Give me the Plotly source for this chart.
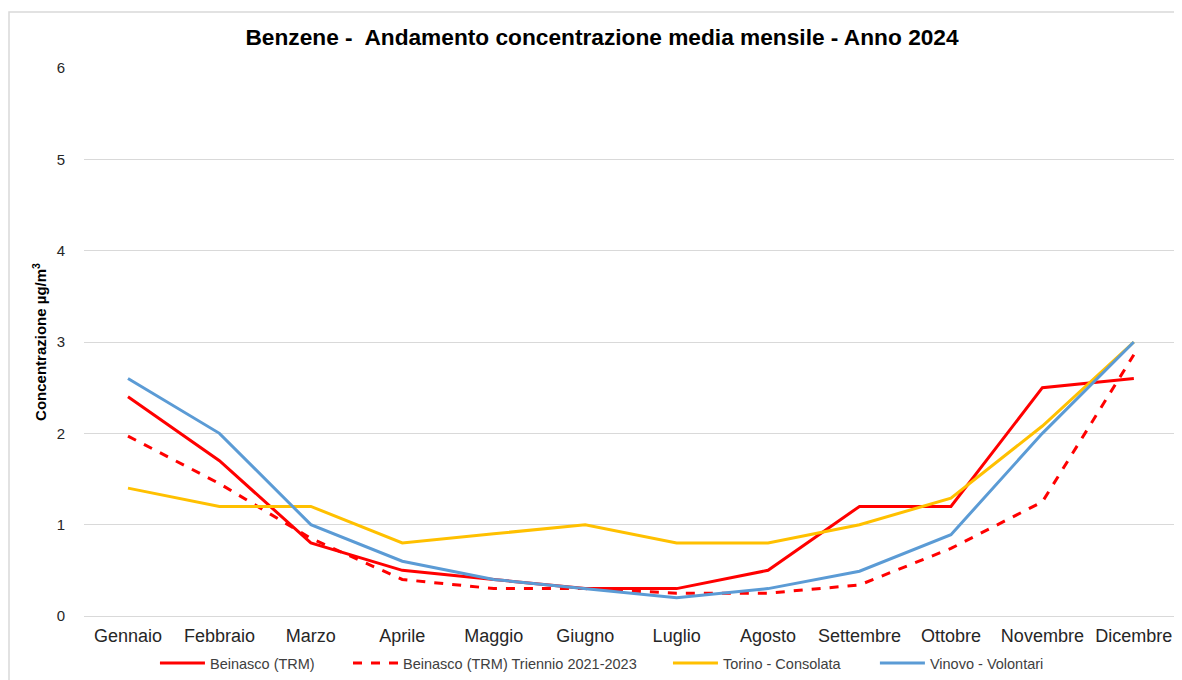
import plotly.graph_objects as go

months = ["Gennaio", "Febbraio", "Marzo", "Aprile", "Maggio", "Giugno", "Luglio",
          "Agosto", "Settembre", "Ottobre", "Novembre", "Dicembre"]
beinasco = [2.4, 1.7, 0.8, 0.5, 0.4, 0.3, 0.3, 0.5, 1.2, 1.2, 2.5, 2.6]
beinasco_triennio = [1.97, 1.45, 0.85, 0.4, 0.3, 0.3, 0.25, 0.25, 0.34, 0.74, 1.25, 2.86]
torino = [1.4, 1.2, 1.2, 0.8, 0.9, 1.0, 0.8, 0.8, 1.0, 1.29, 2.08, 3.0]
vinovo = [2.6, 2.0, 1.0, 0.6, 0.4, 0.3, 0.2, 0.3, 0.49, 0.89, 2.0, 3.0]
y_ticks = [0, 1, 2, 3, 4, 5, 6]

FONT = "Liberation Sans, Arial, sans-serif"

series = [
    ("Beinasco (TRM)", beinasco, "#FF0000", "solid", "legend"),
    ("Beinasco (TRM) Triennio 2021-2023", beinasco_triennio, "#FF0000", "dash", "legend2"),
    ("Torino - Consolata", torino, "#FFC000", "solid", "legend3"),
    ("Vinovo - Volontari", vinovo, "#5B9BD5", "solid", "legend4"),
]

fig = go.Figure()
for name, vals, color, dash, lg in series:
    fig.add_trace(go.Scatter(x=months, y=vals, mode="lines", name=name, legend=lg,
                             line=dict(color=color, width=3, dash=dash)))

legend_x = [0.0648, 0.2411, 0.5333, 0.7223]
legend_common = dict(orientation="h", y=-0.0858, yanchor="middle", xanchor="left",
                     font=dict(family=FONT, size=14.5, color="#404040"),
                     itemwidth=45, bgcolor="rgba(0,0,0,0)", borderwidth=0)

fig.update_layout(
    width=1174, height=672,
    paper_bgcolor="white", plot_bgcolor="white",
    font=dict(family=FONT, size=15, color="#404040"),
    title=dict(text="<b>Benzene -  Andamento concentrazione media mensile - Anno 2024</b>",
               x=0.506, xanchor="center", y=0.957, yanchor="middle",
               font=dict(family=FONT, size=22.7, color="#000000")),
    margin=dict(l=76, r=3, t=60, b=64, autoexpand=False),
    showlegend=True,
    legend=dict(x=legend_x[0], **legend_common),
    legend2=dict(x=legend_x[1], **legend_common),
    legend3=dict(x=legend_x[2], **legend_common),
    legend4=dict(x=legend_x[3], **legend_common),
    xaxis=dict(showgrid=False, showline=False, ticks="", range=[-0.481, 11.494],
               ticklabelstandoff=7,
               tickfont=dict(family=FONT, size=18, color="#262626")),
    yaxis=dict(range=[0, 6], tickvals=y_ticks, showgrid=True, gridcolor="#D9D9D9",
               gridwidth=1.3, zeroline=True, zerolinecolor="#D9D9D9", zerolinewidth=1.3,
               ticks="", ticklen=0, tickfont=dict(family=FONT, size=15, color="#262626"),
               ticklabelstandoff=18,
               title=dict(text="<b>Concentrazione µg/m<sup>3</sup></b>", standoff=6,
                          font=dict(family=FONT, size=15, color="#000000"))),
)

fig.add_shape(type="rect", xref="paper", yref="paper", x0=-0.0685, x1=1.01, y0=-0.2, y1=1.102,
              line=dict(color="#D9D9D9", width=1.5), layer="below")

fig.write_html("out.html")
